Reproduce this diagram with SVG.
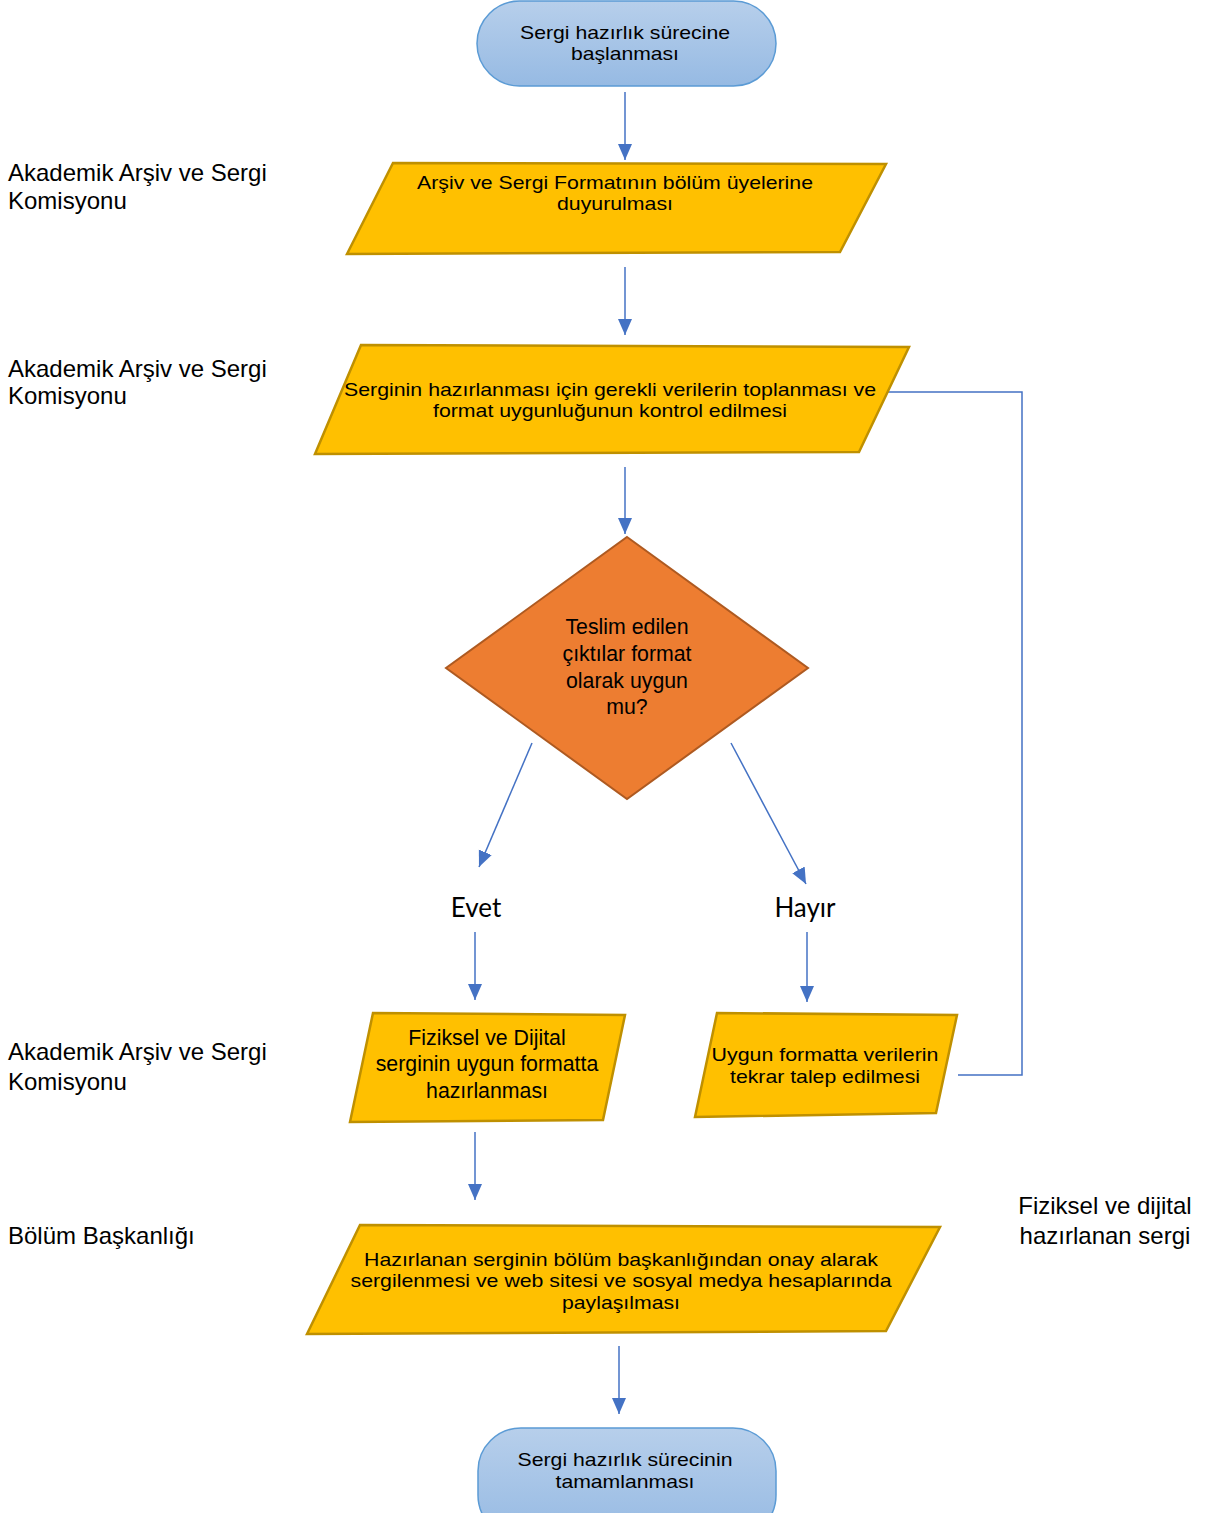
<svg xmlns="http://www.w3.org/2000/svg" width="1208" height="1513" viewBox="0 0 1208 1513">
<defs>
<linearGradient id="termGrad" x1="0" y1="0" x2="0" y2="1">
<stop offset="0" stop-color="#b7cfeb"/>
<stop offset="1" stop-color="#96bae3"/>
</linearGradient>
<marker id="arr" markerUnits="userSpaceOnUse" markerWidth="16" markerHeight="16" viewBox="0 0 16 16" refX="16" refY="8" orient="auto">
<path d="M0,1 L16,8 L0,15 Z" fill="#4472c4"/>
</marker>
</defs>
<style>
.term{fill:url(#termGrad);stroke:#5b9bd5;stroke-width:1.5}
.para{fill:#ffc000;stroke:#bf9000;stroke-width:2.5}
.dia{fill:#ed7d31;stroke:#ae5a21;stroke-width:2}
.t{font-family:"Liberation Sans",Arial,sans-serif;font-size:21.3px;fill:#000;text-anchor:middle}
.c{font-family:"Liberation Sans",Arial,sans-serif;font-size:19px;fill:#000;text-anchor:middle}
.side{font-family:"Liberation Sans",Arial,sans-serif;font-size:24px;fill:#000}
.lbl{font-family:Lato,"Open Sans",sans-serif;font-size:26px;fill:#000;text-anchor:middle}
.con{stroke:#4472c4;stroke-width:1.5;fill:none}
</style>
<rect width="1208" height="1513" fill="#fff"/>

<g id="connectors">
<line class="con" x1="625" y1="92" x2="625" y2="160" marker-end="url(#arr)"/>
<line class="con" x1="625" y1="267" x2="625" y2="335" marker-end="url(#arr)"/>
<line class="con" x1="625" y1="467" x2="625" y2="534" marker-end="url(#arr)"/>
<line class="con" x1="532" y1="743" x2="479" y2="867" marker-end="url(#arr)"/>
<line class="con" x1="731" y1="743" x2="806" y2="884" marker-end="url(#arr)"/>
<line class="con" x1="475" y1="932" x2="475" y2="1000" marker-end="url(#arr)"/>
<line class="con" x1="807" y1="932" x2="807" y2="1002" marker-end="url(#arr)"/>
<line class="con" x1="475" y1="1132" x2="475" y2="1200" marker-end="url(#arr)"/>
<line class="con" x1="619" y1="1346" x2="619" y2="1414" marker-end="url(#arr)"/>
<polyline class="con" points="888,392 1022,392 1022,1075 958,1075"/>
</g>

<g id="start">
<rect class="term" x="477" y="1" width="299" height="85" rx="42.5"/>
<text class="c" x="625" y="38.5" textLength="210" lengthAdjust="spacingAndGlyphs">Sergi hazırlık sürecine</text>
<text class="c" x="625" y="60" textLength="108" lengthAdjust="spacingAndGlyphs">başlanması</text>
</g>

<g id="announce">
<polygon class="para" points="347,254 393,163 886,164 840,252"/>
<text class="c" x="615" y="188.5" textLength="396" lengthAdjust="spacingAndGlyphs">Arşiv ve Sergi Formatının bölüm üyelerine</text>
<text class="c" x="615" y="210" textLength="116" lengthAdjust="spacingAndGlyphs">duyurulması</text>
</g>

<g id="collect">
<polygon class="para" points="315,454 361,345 909,347 859,452"/>
<text class="c" x="610" y="395.5" textLength="532" lengthAdjust="spacingAndGlyphs">Serginin hazırlanması için gerekli verilerin toplanması ve</text>
<text class="c" x="610" y="417" textLength="354" lengthAdjust="spacingAndGlyphs">format uygunluğunun kontrol edilmesi</text>
</g>

<g id="decision">
<polygon class="dia" points="627,537 808,668 627,799 446,668"/>
<text class="t" x="627" y="634">Teslim edilen</text>
<text class="t" x="627" y="661">çıktılar format</text>
<text class="t" x="627" y="688">olarak uygun</text>
<text class="t" x="627" y="714">mu?</text>
</g>

<g id="label-evet">
<text class="lbl" x="476" y="917">Evet</text>
</g>
<g id="label-hayir">
<text class="lbl" x="805" y="917">Hayır</text>
</g>

<g id="prepare">
<polygon class="para" points="350,1122 373,1013 625,1015 603,1120"/>
<text class="t" x="487" y="1045">Fiziksel ve Dijital</text>
<text class="t" x="487" y="1071">serginin uygun formatta</text>
<text class="t" x="487" y="1098">hazırlanması</text>
</g>

<g id="rerequest">
<polygon class="para" points="695,1117 717,1013 957,1015 936,1113"/>
<text class="c" x="825" y="1061" textLength="227" lengthAdjust="spacingAndGlyphs">Uygun formatta verilerin</text>
<text class="c" x="825" y="1082.5" textLength="190" lengthAdjust="spacingAndGlyphs">tekrar talep edilmesi</text>
</g>

<g id="approve">
<polygon class="para" points="307,1334 360,1225 940,1227 886,1331"/>
<text class="c" x="621" y="1265.5" textLength="514" lengthAdjust="spacingAndGlyphs">Hazırlanan serginin bölüm başkanlığından onay alarak</text>
<text class="c" x="621" y="1287" textLength="541" lengthAdjust="spacingAndGlyphs">sergilenmesi ve web sitesi ve sosyal medya hesaplarında</text>
<text class="c" x="621" y="1308.5" textLength="118" lengthAdjust="spacingAndGlyphs">paylaşılması</text>
</g>

<g id="end">
<rect class="term" x="478" y="1428" width="298" height="110" rx="43"/>
<text class="c" x="625" y="1466" textLength="215" lengthAdjust="spacingAndGlyphs">Sergi hazırlık sürecinin</text>
<text class="c" x="625" y="1487.5" textLength="139" lengthAdjust="spacingAndGlyphs">tamamlanması</text>
</g>

<g id="side-labels">
<text class="side" x="8" y="181">Akademik Arşiv ve Sergi</text>
<text class="side" x="8" y="209">Komisyonu</text>
<text class="side" x="8" y="377">Akademik Arşiv ve Sergi</text>
<text class="side" x="8" y="404">Komisyonu</text>
<text class="side" x="8" y="1060">Akademik Arşiv ve Sergi</text>
<text class="side" x="8" y="1090">Komisyonu</text>
<text class="side" x="8" y="1244">Bölüm Başkanlığı</text>
<text class="side" x="1105" y="1214" text-anchor="middle">Fiziksel ve dijital</text>
<text class="side" x="1105" y="1244" text-anchor="middle">hazırlanan sergi</text>
</g>
</svg>
